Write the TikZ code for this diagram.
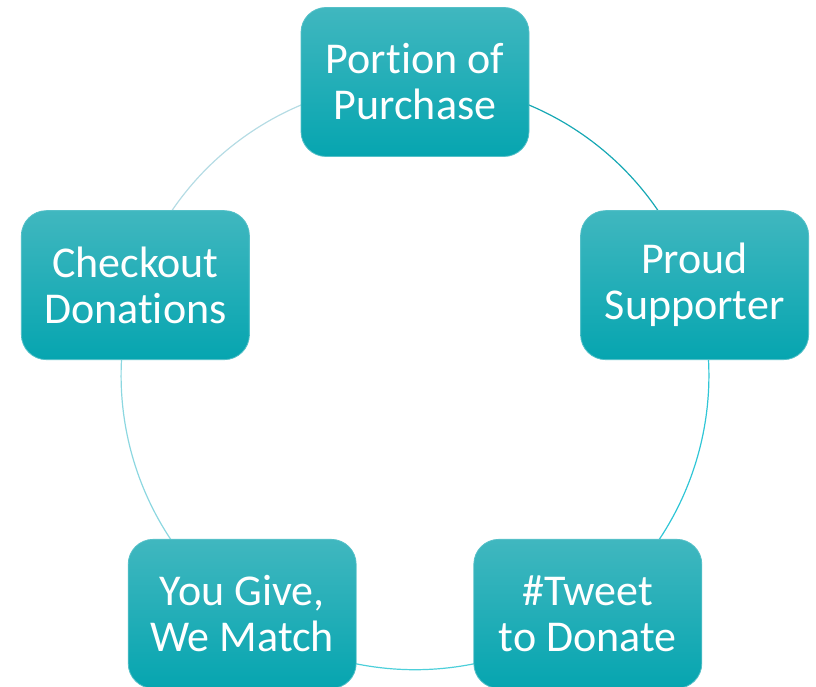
\documentclass[tikz,border=0pt]{standalone}
\usepackage{fontspec}
\setmainfont{Carlito}[Ligatures=NoCommon]
\usetikzlibrary{backgrounds, calc}

\definecolor{cajaarriba}{HTML}{40B7BF}
\definecolor{cajaabajo}{HTML}{06A5B0}
\definecolor{cajaborde}{HTML}{55C0C8}
\definecolor{arcoA}{HTML}{17A8B4}
\definecolor{arcoB}{HTML}{30C6D6}
\definecolor{arcoC}{HTML}{4DCFDA}
\definecolor{arcoD}{HTML}{8CD7E0}
\definecolor{arcoE}{HTML}{B5DCE4}

\tikzset{
  etapa/.style={rectangle, rounded corners=25pt, top color=cajaarriba,
    bottom color=cajaabajo, draw=cajaborde, line width=0.8pt,
    minimum width=228pt, minimum height=149pt, inner sep=0pt,
    align=center, text=white, font=\fontsize{44}{46}\selectfont},
  arco/.style={line width=1.2pt, bend left=36, looseness=0.94}
}

\begin{document}
\begin{tikzpicture}[x=1pt, y=1pt]
    \useasboundingbox (0, 0) rectangle (816, 686);
    \clip (0, 0) rectangle (816, 686);

    % Centro del ciclo
    \coordinate (centro) at (415, 310);

    % Etapas sobre el circulo
    \node[etapa] (purchase) at ($(centro)+(90:294)$) {Portion of\\Purchase};
    \node[etapa] (supporter) at ($(centro)+(18:294)$) {Proud\\Supporter};
    \node[etapa] (tweet) at ($(centro)+(-54:294)$) {\#Tweet\\to Donate};
    \node[etapa] (match) at ($(centro)+(-126:294)$) {You Give,\\We Match};
    \node[etapa] (checkout) at ($(centro)+(162:294)$) {Checkout\\Donations};

    % Arcos entre etapas
    \begin{pgfonlayer}{background}
      \draw[arco, arcoA] (purchase.center) to (supporter.center);
      \draw[arco, arcoB] (supporter.center) to (tweet.center);
      \draw[arco, arcoC] (tweet.center) to (match.center);
      \draw[arco, arcoD] (match.center) to (checkout.center);
      \draw[arco, arcoE] (checkout.center) to (purchase.center);
    \end{pgfonlayer}
  \end{tikzpicture}
\end{document}
